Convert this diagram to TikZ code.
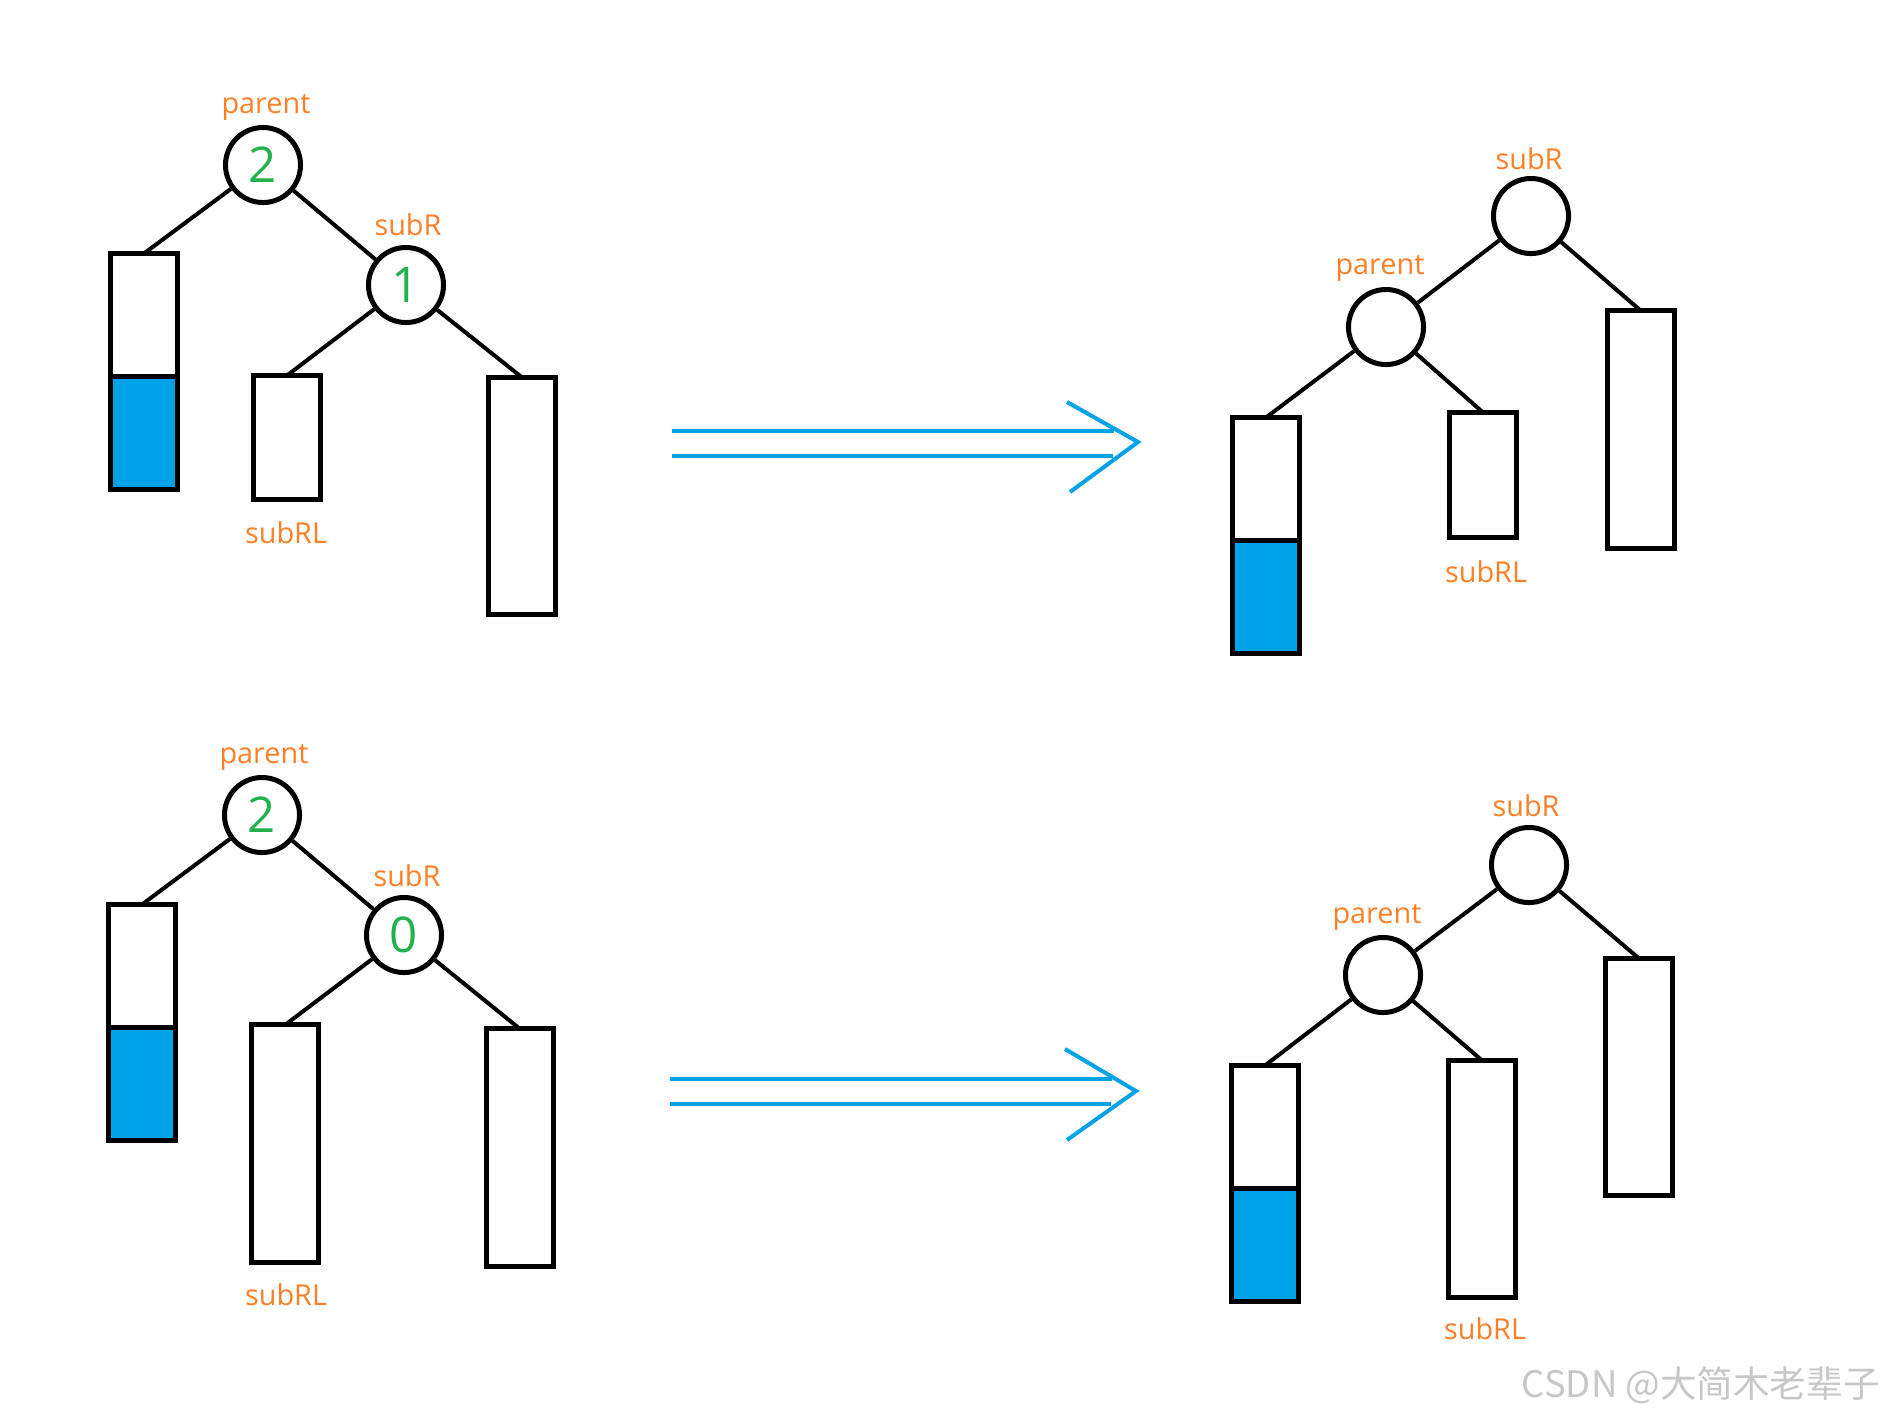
\documentclass[tikz,border=0pt]{standalone}
\usepackage{fontspec}
\setmainfont{Open Sans}
\newfontfamily\cjk{Noto Sans CJK SC}
\usepackage{tikz}
\usetikzlibrary{arrows.meta, positioning}

\definecolor{tblue}{RGB}{0,162,232}
\definecolor{torange}{RGB}{255,127,39}
\definecolor{tgreen}{RGB}{34,177,76}

\begin{document}
\begin{tikzpicture}[x=0.01cm, y=-0.01cm, node distance=0pt,
        bal/.style={circle, draw, line width=0.05cm, minimum size=0.75cm, inner sep=0pt, text=tgreen, font=\fontsize{14}{16}\selectfont},
        bar/.style={draw, line width=0.05cm, minimum width=0.67cm, inner sep=0pt, outer sep=0pt},
        tag/.style={anchor=base, inner sep=0pt, text=torange, font=\fontsize{8.2}{10}\selectfont},
        link/.style={line width=0.04cm},
        fat/.style={tblue, line width=0.04cm}]
    \useasboundingbox (0,0) rectangle (1882,1417);

    % top left
    \node[bal] (pA) at (263,165) {2};
    \node[bal] (rA) at (406,285) {1};
    \node[bar, minimum height=1.23cm] (LA) at (144,315) {};
    \node[bar, minimum height=1.13cm, fill=tblue] (LAb) [below=of LA] {};
    \node[bar, minimum height=1.24cm] (RLA) at (287,437.5) {};
    \node[bar, minimum height=2.37cm] (RA) at (522,496) {};
    \node[tag] (tpA) at (266,113) {parent};
    \node[tag] (trA) at (408,235) {subR};
    \node[tag] (tlA) at (286,543) {subRL};

    \draw[link] (pA) -- (LA.north);
    \draw[link] (pA) -- (rA);
    \draw[link] (rA) -- (RLA.north);
    \draw[link] (rA) -- (RA.north);

    % bottom left
    \node[bal] (pB) at (262,815) {2};
    \node[bal] (rB) at (404,935) {0};
    \node[bar, minimum height=1.23cm] (LB) at (142,966) {};
    \node[bar, minimum height=1.13cm, fill=tblue] (LBb) [below=of LB] {};
    \node[bar, minimum height=2.37cm] (RLB) at (285,1143.5) {};
    \node[bar, minimum height=2.37cm] (RB) at (520,1147.5) {};
    \node[tag] (tpB) at (264,763) {parent};
    \node[tag] (trB) at (407,886) {subR};
    \node[tag] (tlB) at (286,1305) {subRL};

    \draw[link] (pB) -- (LB.north);
    \draw[link] (pB) -- (rB);
    \draw[link] (rB) -- (RLB.north);
    \draw[link] (rB) -- (RB.north);

    % top right
    \node[bal] (sC) at (1531,216) {};
    \node[bal] (pC) at (1386,327) {};
    \node[bar, minimum height=1.23cm] (LC) at (1266,479) {};
    \node[bar, minimum height=1.13cm, fill=tblue] (LCb) [below=of LC] {};
    \node[bar, minimum height=1.25cm] (RLC) at (1483,475) {};
    \node[bar, minimum height=2.37cm] (RC) at (1641,429.5) {};
    \node[tag] (tsC) at (1529,169) {subR};
    \node[tag] (tpC) at (1380,274) {parent};
    \node[tag] (tlC) at (1486,582) {subRL};

    \draw[link] (sC) -- (pC);
    \draw[link] (sC) -- (RC.north);
    \draw[link] (pC) -- (LC.north);
    \draw[link] (pC) -- (RLC.north);

    % bottom right
    \node[bal] (sD) at (1529,865) {};
    \node[bal] (pD) at (1383,975) {};
    \node[bar, minimum height=1.23cm] (LD) at (1265,1127) {};
    \node[bar, minimum height=1.13cm, fill=tblue] (LDb) [below=of LD] {};
    \node[bar, minimum height=2.37cm] (RLD) at (1482,1179) {};
    \node[bar, minimum height=2.37cm] (RD) at (1639,1077) {};
    \node[tag] (tsD) at (1526,816) {subR};
    \node[tag] (tpD) at (1377,923) {parent};
    \node[tag] (tlD) at (1485,1339) {subRL};

    \draw[link] (sD) -- (pD);
    \draw[link] (sD) -- (RD.north);
    \draw[link] (pD) -- (LD.north);
    \draw[link] (pD) -- (RLD.north);

    % arrows
    \coordinate (u1) at (672,431);
    \coordinate (u1e) at (1114,431);
    \coordinate (u2) at (672,456);
    \coordinate (u2e) at (1113,456);
    \coordinate (uh1) at (1067,402);
    \coordinate (uhT) at (1138,442);
    \coordinate (uh2) at (1070,492);
    \draw[fat] (u1) -- (u1e);
    \draw[fat] (u2) -- (u2e);
    \draw[fat] (uh1) -- (uhT) -- (uh2);

    \coordinate (d1) at (670,1079);
    \coordinate (d1e) at (1112,1079);
    \coordinate (d2) at (670,1104);
    \coordinate (d2e) at (1111,1104);
    \coordinate (dh1) at (1065,1049);
    \coordinate (dhT) at (1136,1091);
    \coordinate (dh2) at (1067,1140);
    \draw[fat] (d1) -- (d1e);
    \draw[fat] (d2) -- (d2e);
    \draw[fat] (dh1) -- (dhT) -- (dh2);

    \node[anchor=base west, inner sep=0pt, text=black!22, font=\cjk\fontsize{10.4}{12}\selectfont] (mark) at (1521,1397) {CSDN @大简木老辈子};
\end{tikzpicture}
\end{document}
